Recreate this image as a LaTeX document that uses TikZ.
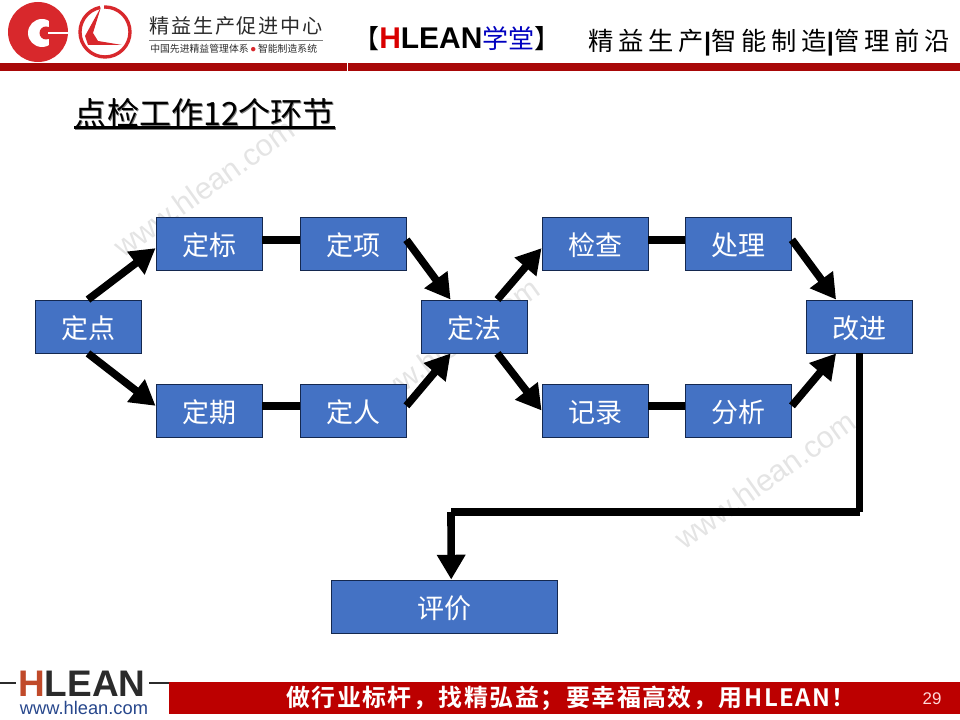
\documentclass[tikz,border=0pt]{standalone}
\usepackage{fontspec}
\usetikzlibrary{arrows.meta}
\setmainfont{Liberation Sans}
\newfontfamily\cjk{Noto Sans CJK SC}
\newfontfamily\cjkspaced[LetterSpace=9]{Noto Sans CJK SC}
\newfontfamily\cjkwide[LetterSpace=19]{Noto Sans CJK SC}
\newfontfamily\cjkfoot[LetterSpace=6.5]{Noto Sans CJK SC Bold}
\definecolor{boxblue}{HTML}{4472C4}
\definecolor{boxedge}{HTML}{14284F}
\definecolor{barred}{HTML}{A80808}
\definecolor{footred}{HTML}{BC0000}
\definecolor{logored}{HTML}{D8282C}
\definecolor{logorust}{HTML}{C04A2A}
\definecolor{logodark}{HTML}{2B2B2B}
\definecolor{webblue}{HTML}{27478C}
\definecolor{markgray}{HTML}{E4E4E4}
\tikzset{
    blockbox/.style={draw=boxedge, line width=0.6pt, fill=boxblue, text=white, minimum height=1.325cm, inner sep=0pt, text height=0.67cm, text depth=0.08cm, font=\cjk\fontsize{19.2}{22}\selectfont},
    smallbox/.style={blockbox, minimum width=2.65cm},
    flowline/.style={line width=0.19cm, black},
    arrowline/.style={flowline, -{Triangle[length=0.62cm,width=0.68cm]}},
    watermark/.style={text=markgray, rotate=35.5, font=\fontsize{21.7}{24}\selectfont}
}

\begin{document}
\begin{tikzpicture}[x=0.025cm, y=-0.025cm]
    \useasboundingbox (0,0) rectangle (960,720);

    % watermark
    \node[watermark] (markA) at (204,188) {www.hlean.com};
    \node[watermark] (markB) at (449,347) {www.hlean.com};
    \node[watermark] (markC) at (765,480) {www.hlean.com};

    % header logos
    \fill[logored] (38,32) circle (30);
    \fill[white] (42,33) circle (14);
    \fill[logored] (49,15) rectangle (60,50);
    \fill[logored] (46,33) circle (6.5);
    \draw[white, line width=1.5pt] (48,33) -- (69,33);
    \draw[logored, line width=2.4pt] (105,32) circle (25);
    \fill[white] (100,4) rectangle (104,14);
    \fill[logored] (101,7) -- (85,36) -- (88,45) -- (122,45) -- (98,41) -- (93,33) -- cycle;

    % header texts
    \node[text=logodark, anchor=west, inner sep=0pt, font=\cjkspaced\fontsize{14.3}{16}\selectfont] (brand) at (149,26) {精益生产促进中心};
    \draw[gray, line width=0.5pt] (149,40) -- (323,40);
    \node[text=logodark, anchor=west, inner sep=0pt, font=\cjk\fontsize{7}{8}\selectfont] (brandsub) at (150,49) {中国先进精益管理体系 \textcolor{logored}{\fontsize{3.5}{4}\selectfont\raisebox{1.2pt}{●}} 智能制造系统};
    \node[anchor=west, inner sep=0pt, font=\fontsize{21.3}{24}\selectfont] (hall) at (353,39) {{\cjk\fontsize{18.5}{24}\selectfont 【}\textbf{\textcolor{red!85!black}{H}LEAN}{\cjk\fontsize{18.5}{24}\selectfont\textcolor{blue!75!black}{学堂}】}};
    \node[anchor=east, inner sep=0pt, font=\cjkwide\fontsize{18}{22}\selectfont] (slogan) at (950,43) {精益生产{\rmfamily\bfseries |}智能制造{\rmfamily\bfseries |}管理前沿};

    % header bar
    \fill[barred] (0,63) rectangle (346.5,71);
    \fill[barred] (347.5,63) rectangle (960,71);

    % title
    \node[text=gray, inner sep=0pt, font=\cjk\fontsize{22.8}{26}\selectfont] (titleshade) at (206,114) {点检工作12个环节};
    \node[inner sep=0pt, font=\cjk\fontsize{22.8}{26}\selectfont] (title) at (205,113) {点检工作12个环节};
    \draw[gray, line width=1.5pt] (75,128.5) -- (336,128.5);
    \draw[black, line width=1.5pt] (74,127.5) -- (335,127.5);

    % boxes
    \node[smallbox] (dian) at (88,326.5) {定点};
    \node[smallbox] (biao) at (209,243.5) {定标};
    \node[smallbox] (xiang) at (353,243.5) {定项};
    \node[smallbox] (qi) at (209,410.5) {定期};
    \node[smallbox] (ren) at (353,410.5) {定人};
    \node[smallbox] (fa) at (474,326.5) {定法};
    \node[smallbox] (jiancha) at (595,243.5) {检查};
    \node[smallbox] (chuli) at (738.5,243.5) {处理};
    \node[smallbox] (jilu) at (595,410.5) {记录};
    \node[smallbox] (fenxi) at (738.5,410.5) {分析};
    \node[smallbox] (gaijin) at (859.5,326.5) {改进};
    \node[blockbox, minimum width=5.65cm] (pingjia) at (444,606.5) {评价};

    % left loop
    \draw[arrowline] (dian.north) -- (biao.185);
    \draw[flowline] (biao.4) -- (xiang.176);
    \draw[arrowline] (xiang.4) -- (fa.131);
    \draw[arrowline] (dian.south) -- (qi.175);
    \draw[flowline] (qi.5) -- (ren.175);
    \draw[arrowline] (ren.5) -- (fa.229);

    % right loop
    \draw[arrowline] (fa.49) -- (jiancha.185);
    \draw[flowline] (jiancha.4) -- (chuli.176);
    \draw[arrowline] (chuli.4) -- (gaijin.131);
    \draw[arrowline] (fa.311) -- (jilu.west);
    \draw[flowline] (jilu.5) -- (fenxi.175);
    \draw[arrowline] (fenxi.5) -- (gaijin.229);

    % down to the last box
    \coordinate (turnR) at (860,512);
    \coordinate (turnL) at (451,512);
    \draw[flowline] (gaijin.south) -- (gaijin.south |- turnR);
    \draw[flowline] (turnR) -- (turnL);
    \draw[arrowline] (turnL) -- (pingjia.75);

    % footer
    \fill[footred] (169,682) rectangle (960,714);
    \draw[logodark, line width=0.8pt] (0,683) -- (16,683);
    \draw[logodark, line width=0.8pt] (149,683) -- (169,683);
    \node[anchor=west, inner sep=0pt, font=\bfseries\fontsize{26.3}{28}\selectfont] (hlean) at (18,684) {\textcolor{logorust}{H}\textcolor{logodark}{LEAN}};
    \node[anchor=center, inner sep=0pt, text=webblue, font=\fontsize{13}{14}\selectfont] (web) at (84,708) {www.hlean.com};
    \node[text=white, anchor=center, inner sep=0pt, font=\cjkfoot\fontsize{17}{20}\selectfont] (footline) at (571,698.5) {做行业标杆，找精弘益；要幸福高效，用HLEAN！};
    \node[text=white!85!red, inner sep=0pt, font=\fontsize{12}{14}\selectfont] (pagenum) at (932,699) {29};
\end{tikzpicture}
\end{document}
